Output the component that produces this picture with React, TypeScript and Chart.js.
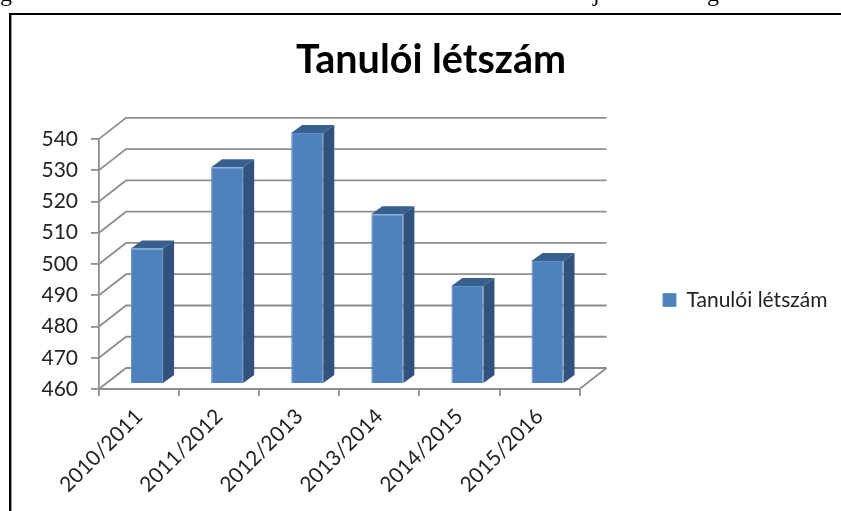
import React, { useEffect, useRef } from "react";
import { Chart, registerables } from "chart.js";

Chart.register(...registerables);

const categories = ["2010/2011", "2011/2012", "2012/2013", "2013/2014", "2014/2015", "2015/2016"];
const seriesName = "Tanulói létszám";
const values = [503, 529, 540, 514, 491, 499];
const yMin = 460;
const yMax = 540;
const yStep = 10;

const GRID = "#8e8e8e";
const FRONT = "#4f81bd";
const SIDE = "#30527c";
const TOP = "#38608f";
const EDGE = "#6391c9";
const DEPTH_X = 27;
const DEPTH_Y = 21;
const BAR_DX = 8;
const BAR_DY = 6;
const BAR_DEPTH_X = 11;
const BAR_DEPTH_Y = 8;

const scenePlugin = {
  id: "scene",
  afterLayout(chart: any) {
    const l = chart.legend;
    l.left = 653;
    l.right = 841;
    l.top = 279;
    l.bottom = 321;
    const t = chart.titleBlock;
    t.left = 0;
    t.right = 862;
  },
  beforeDraw(chart: any) {
    const c = chart.ctx;
    c.save();
    c.fillStyle = "#fff";
    c.fillRect(0, 0, 841, 511);
    c.fillStyle = "#000";
    c.font = "24px 'Liberation Serif'";
    c.fillText("g", 0, 1);
    c.fillText("j", 593, 1);
    c.fillText("g", 707, 1);
    c.fillRect(9, 13, 832, 2);
    c.fillRect(9, 13, 2, 498);
    c.fillStyle = "#9a9a9a";
    c.fillRect(11, 15, 1, 496);
    c.restore();
  },
  beforeDatasetsDraw(chart: any) {
    const c = chart.ctx;
    const { left, right, bottom } = chart.chartArea;
    const y = chart.scales.y;
    c.save();
    c.strokeStyle = GRID;
    c.lineWidth = 1.8;
    for (let v = yMin; v <= yMax; v += yStep) {
      const py = y.getPixelForValue(v);
      c.beginPath();
      c.moveTo(left, py);
      c.lineTo(left + DEPTH_X, py - DEPTH_Y);
      c.lineTo(right + DEPTH_X, py - DEPTH_Y);
      c.stroke();
    }
    c.beginPath();
    c.moveTo(right, bottom);
    c.lineTo(right + DEPTH_X, bottom - DEPTH_Y);
    c.stroke();
    c.beginPath();
    c.moveTo(left, bottom);
    c.lineTo(right, bottom);
    c.stroke();
    c.restore();
    c.save();
    c.translate(BAR_DX, -BAR_DY);
    const base = y.getPixelForValue(yMin);
    chart.getDatasetMeta(0).data.forEach((bar: any) => {
      const x0 = bar.x - bar.width / 2;
      const x1 = bar.x + bar.width / 2;
      c.fillStyle = TOP;
      c.beginPath();
      c.moveTo(x0, bar.y);
      c.lineTo(x0 + BAR_DEPTH_X, bar.y - BAR_DEPTH_Y);
      c.lineTo(x1 + BAR_DEPTH_X, bar.y - BAR_DEPTH_Y);
      c.lineTo(x1, bar.y);
      c.closePath();
      c.fill();
      c.fillStyle = SIDE;
      c.beginPath();
      c.moveTo(x1, bar.y);
      c.lineTo(x1 + BAR_DEPTH_X, bar.y - BAR_DEPTH_Y);
      c.lineTo(x1 + BAR_DEPTH_X, base - BAR_DEPTH_Y);
      c.lineTo(x1, base);
      c.closePath();
      c.fill();
    });
  },
  afterDatasetsDraw(chart: any) {
    chart.ctx.restore();
  },
};

export default function App() {
  const ref = useRef<HTMLCanvasElement>(null);
  useEffect(() => {
    const chart = new Chart(ref.current as HTMLCanvasElement, {
      type: "bar",
      data: {
        labels: categories,
        datasets: [
          {
            label: seriesName,
            data: values,
            backgroundColor: FRONT,
            borderColor: EDGE,
            borderWidth: 1,
            barPercentage: 0.4,
            categoryPercentage: 1,
          },
        ],
      },
      plugins: [scenePlugin],
      options: {
        animation: false,
        responsive: false,
        layout: { padding: { left: 0, top: 20, right: 77, bottom: 0 } },
        plugins: {
          tooltip: { enabled: false },
          title: {
            display: true,
            text: seriesName,
            color: "#000",
            font: { family: "Lato", size: 39.5, weight: "bold" },
            padding: { top: 17, bottom: 54.5 },
          },
          legend: {
            display: true,
            position: "right",
            align: "center",
            labels: {
              boxWidth: 13,
              boxHeight: 13,
              padding: 10,
              color: "#222",
              font: { family: "Lato", size: 21 },
              generateLabels: () => [
                { text: seriesName, fillStyle: FRONT, strokeStyle: EDGE, lineWidth: 1, fontColor: "#222" },
              ],
            },
          },
        },
        scales: {
          x: {
            afterFit: (s: any) => {
              s.height = 122;
            },
            grid: { drawOnChartArea: false, tickLength: 7, color: GRID, lineWidth: 1.8 },
            border: { display: false },
            ticks: {
              color: "#222",
              font: { family: "Lato", size: 21 },
              maxRotation: 45,
              minRotation: 45,
              padding: 8,
            },
          },
          y: {
            min: yMin,
            max: yMax,
            afterFit: (s: any) => {
              s.width = 99;
            },
            grid: { drawOnChartArea: false, tickLength: 8, color: GRID, lineWidth: 1.8 },
            border: { display: true, color: GRID, width: 1.8 },
            ticks: {
              stepSize: yStep,
              color: "#222",
              font: { family: "Lato", size: 21 },
              padding: 13,
            },
          },
        },
      },
    } as any);
    return () => chart.destroy();
  }, []);
  return (
    <div style={{ position: "fixed", left: 0, top: 0 }}>
      <canvas ref={ref} width={841} height={511} style={{ display: "block" }} />
    </div>
  );
}
